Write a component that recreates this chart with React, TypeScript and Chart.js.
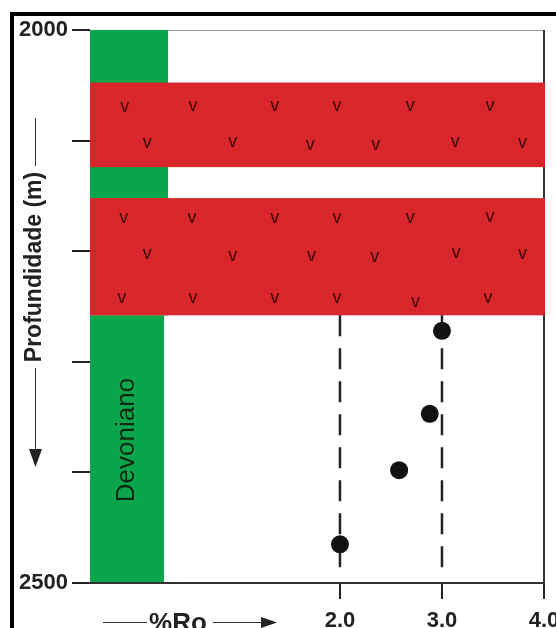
import React, { useEffect, useRef } from "react";
import { Chart, registerables } from "chart.js";

Chart.register(...registerables);

// ---- data ----
const depthTicks = [2000, 2100, 2200, 2300, 2400, 2500];
const depthLabeled = [2000, 2500];
const roTicks = [2, 3, 4];
const roMin = -0.45;
const roMax = 4.0;

// %Ro measurements
const roValues = [3.0, 2.88, 2.58, 2.0];
const depthValues = [2272, 2347, 2398, 2465];

// dashed reference lines
const guideRo = [2.0, 3.0];
const guideTop = 2258;
const guideBottom = 2491;

// red (volcanic) intervals
const redTop = [2047.5, 2152];
const redBottom = [2124, 2258];

// green (Devoniano) column
const greenTop = [2000, 2258];
const greenBottom = [2258, 2500];
const greenRight = [0.315, 0.275];

// "v" symbols inside red bands
const vRo = [
  -0.11, 0.56, 1.36, 1.97, 2.69, 3.47,
  0.11, 0.95, 1.71, 2.35, 3.13, 3.79,
  -0.12, 0.55, 1.36, 1.97, 2.69, 3.47,
  0.11, 0.95, 1.72, 2.34, 3.14, 3.79,
  -0.14, 0.56, 1.36, 1.97, 2.74, 3.45,
];
const vDepth = [
  2070, 2069, 2069, 2069, 2069, 2069,
  2102, 2101, 2104, 2104, 2101, 2102,
  2170, 2170, 2170, 2170, 2170, 2169,
  2203, 2204, 2204, 2205, 2202, 2203,
  2242, 2242, 2242, 2242, 2246, 2242,
];

const FONT = "'Liberation Sans', Arial, sans-serif";

const decorPlugin = {
  id: "decor",
  beforeDraw(chart: any) {
    const ctx = chart.ctx as CanvasRenderingContext2D;
    const xs = chart.scales.x;
    const ys = chart.scales.y;
    const a = chart.chartArea;
    ctx.save();

    // outer frame
    ctx.fillStyle = "#000";
    ctx.fillRect(10, 12, 4, 640);
    ctx.fillRect(10, 12, 560, 4);

    // plot frame top + right
    ctx.strokeStyle = "#999";
    ctx.lineWidth = 1;
    ctx.beginPath();
    ctx.moveTo(a.left, a.top + 0.5);
    ctx.lineTo(a.right, a.top + 0.5);
    ctx.stroke();
    ctx.strokeStyle = "#333";
    ctx.lineWidth = 2;
    ctx.beginPath();
    ctx.moveTo(a.right, a.top);
    ctx.lineTo(a.right, a.bottom);
    ctx.stroke();

    // green column
    ctx.fillStyle = "#0ba64c";
    for (let i = 0; i < greenTop.length; i++) {
      const x0 = xs.getPixelForValue(roMin);
      const x1 = xs.getPixelForValue(greenRight[i]);
      const y0 = ys.getPixelForValue(greenTop[i]);
      const y1 = ys.getPixelForValue(greenBottom[i]);
      ctx.fillRect(x0, y0, x1 - x0, y1 - y0);
    }

    // red bands
    ctx.fillStyle = "#d8262a";
    for (let i = 0; i < redTop.length; i++) {
      const x0 = xs.getPixelForValue(roMin);
      const x1 = xs.getPixelForValue(roMax);
      const y0 = ys.getPixelForValue(redTop[i]);
      const y1 = ys.getPixelForValue(redBottom[i]);
      ctx.fillRect(x0, y0, x1 - x0 + 1, y1 - y0);
    }

    // v symbols
    ctx.fillStyle = "#3e0a0a";
    ctx.font = `18px ${FONT}`;
    ctx.textAlign = "center";
    ctx.textBaseline = "middle";
    for (let i = 0; i < vRo.length; i++) {
      ctx.fillText("v", xs.getPixelForValue(vRo[i]), ys.getPixelForValue(vDepth[i]));
    }

    // Devoniano label
    ctx.save();
    ctx.translate(127, 440);
    ctx.rotate(-Math.PI / 2);
    ctx.fillStyle = "#0d2a14";
    ctx.font = `26px ${FONT}`;
    ctx.textAlign = "center";
    ctx.textBaseline = "middle";
    ctx.fillText("Devoniano", 0, 0);
    ctx.restore();

    // Y title
    ctx.save();
    ctx.translate(35, 267);
    ctx.rotate(-Math.PI / 2);
    ctx.fillStyle = "#222";
    ctx.font = `bold 23px ${FONT}`;
    ctx.textAlign = "center";
    ctx.textBaseline = "middle";
    ctx.fillText("Profundidade (m)", 0, 0);
    ctx.restore();

    ctx.strokeStyle = "#333";
    ctx.fillStyle = "#222";
    ctx.lineWidth = 1;
    ctx.beginPath();
    ctx.moveTo(35.5, 118);
    ctx.lineTo(35.5, 166);
    ctx.moveTo(35.5, 368);
    ctx.lineTo(35.5, 452);
    ctx.stroke();
    ctx.beginPath();
    ctx.moveTo(29, 449);
    ctx.lineTo(42, 449);
    ctx.lineTo(35.5, 467);
    ctx.closePath();
    ctx.fill();

    // X title
    ctx.font = `bold 26px ${FONT}`;
    ctx.textAlign = "center";
    ctx.textBaseline = "alphabetic";
    ctx.fillText("%Ro", 178, 631);
    ctx.beginPath();
    ctx.moveTo(103, 622.5);
    ctx.lineTo(147, 622.5);
    ctx.moveTo(213, 622.5);
    ctx.lineTo(264, 622.5);
    ctx.stroke();
    ctx.beginPath();
    ctx.moveTo(261, 617);
    ctx.lineTo(277, 622.5);
    ctx.lineTo(261, 628);
    ctx.closePath();
    ctx.fill();

    ctx.restore();
  },
};

export default function App() {
  const ref = useRef<HTMLCanvasElement>(null);

  useEffect(() => {
    if (!ref.current) return;
    const points = roValues.map((v, i) => ({ x: v, y: depthValues[i] }));
    const guides = guideRo.map((r) => ({
      type: "scatter",
      data: [
        { x: r, y: guideTop },
        { x: r, y: guideBottom },
      ],
      showLine: true,
      pointRadius: 0,
      borderColor: "#222",
      borderWidth: 2.5,
      borderDash: [21, 12],
      fill: false,
    }));

    const chart = new Chart(ref.current, {
      type: "scatter",
      data: {
        datasets: [
          {
            data: points,
            pointRadius: 9,
            pointHoverRadius: 9,
            backgroundColor: "#111",
            borderWidth: 0,
          },
          ...(guides as any),
        ],
      },
      options: {
        responsive: false,
        animation: false,
        events: [],
        layout: { padding: { left: 0, right: 12, top: 30, bottom: 0 } },
        plugins: {
          legend: { display: false },
          tooltip: { enabled: false },
        },
        scales: {
          x: {
            type: "linear",
            min: roMin,
            max: roMax,
            afterBuildTicks: (s: any) => {
              s.ticks = roTicks.map((v) => ({ value: v }));
            },
            afterFit: (s: any) => {
              s.height = 45;
              s.paddingLeft = 0;
              s.paddingRight = 0;
            },
            ticks: {
              autoSkip: false,
              maxRotation: 0,
              padding: 9,
              color: "#222",
              font: { family: FONT, size: 22, weight: "bold" },
              callback: (v: any) => Number(v).toFixed(1),
            },
            grid: {
              display: true,
              drawOnChartArea: false,
              drawTicks: true,
              tickLength: 16,
              color: "#222",
              lineWidth: 2,
            },
            border: { display: true, color: "#333", width: 2 },
          },
          y: {
            type: "linear",
            reverse: true,
            min: 2000,
            max: 2500,
            afterBuildTicks: (s: any) => {
              s.ticks = depthTicks.map((v) => ({ value: v }));
            },
            afterFit: (s: any) => {
              s.width = 90;
              s.paddingTop = 0;
              s.paddingBottom = 0;
            },
            ticks: {
              autoSkip: false,
              padding: 4,
              color: "#222",
              font: { family: FONT, size: 22, weight: "bold" },
              callback: (v: any) => (depthLabeled.includes(Number(v)) ? String(v) : ""),
            },
            grid: {
              display: true,
              drawOnChartArea: false,
              drawTicks: true,
              tickLength: 18,
              color: "#222",
              lineWidth: 2,
            },
            border: { display: false },
          },
        },
      },
      plugins: [decorPlugin],
    } as any);

    return () => chart.destroy();
  }, []);

  return (
    <div style={{ position: "fixed", left: 0, top: 0, width: 556, height: 628, background: "#fff" }}>
      <canvas ref={ref} width={556} height={628} style={{ display: "block", width: 556, height: 628 }} />
    </div>
  );
}
